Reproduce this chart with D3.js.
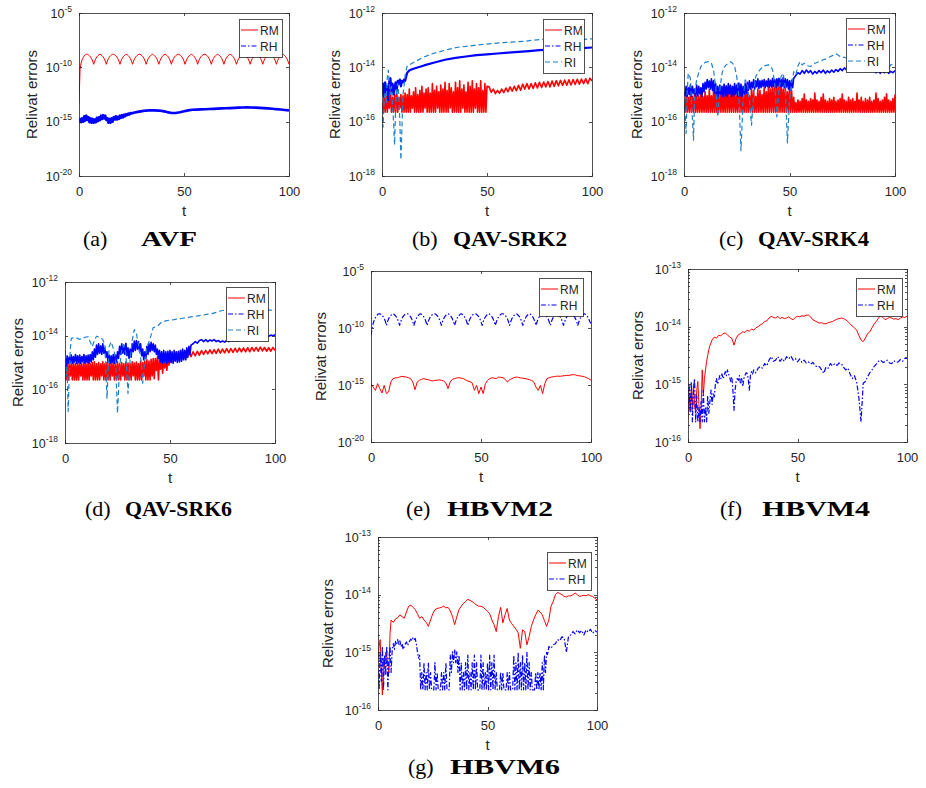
<!DOCTYPE html>
<html>
<head>
<meta charset="utf-8">
<script src="https://cdn.jsdelivr.net/npm/d3@7"></script>
<style>
body { margin: 0; background: #fff; }
svg { display: block; }
text { font-family: "Liberation Sans", Arial, sans-serif; fill: #262626; }
</style>
</head>
<body>
<svg id="fig" width="926" height="788"></svg>
<script>
// DATA
// every series is a list of segments: [t start, t step, log10(error) values]

// (a) AVF
var avfRM = [[0, 0.5, [
  -13.3,-10.2,-9.6,-9.3,-9.1,-8.95,-8.85,-8.8,-8.8,-8.85,-8.93,-9.04,-9.2,-9.42,-9.72,
  -9.42,-9.2,-9.04,-8.93,-8.85,-8.8,-8.85,-8.93,-9.04,-9.2,-9.42,-9.72,
  -9.42,-9.2,-9.04,-8.93,-8.85,-8.8,-8.8,-8.85,-8.93,-9.04,-9.2,-9.42,-9.72,
  -9.42,-9.2,-9.04,-8.93,-8.85,-8.8,-8.85,-8.93,-9.04,-9.2,-9.42,-9.72,
  -9.42,-9.2,-9.04,-8.93,-8.85,-8.8,-8.8,-8.85,-8.93,-9.04,-9.2,-9.42,-9.72,
  -9.42,-9.2,-9.04,-8.93,-8.85,-8.8,-8.85,-8.93,-9.04,-9.2,-9.42,-9.72,
  -9.42,-9.2,-9.04,-8.93,-8.85,-8.8,-8.85,-8.93,-9.04,-9.2,-9.42,-9.72,
  -9.42,-9.2,-9.04,-8.93,-8.85,-8.8,-8.8,-8.85,-8.93,-9.04,-9.2,-9.42,-9.72,
  -9.42,-9.2,-9.04,-8.93,-8.85,-8.8,-8.85,-8.93,-9.04,-9.2,-9.42,-9.72,
  -9.42,-9.2,-9.04,-8.93,-8.85,-8.8,-8.8,-8.85,-8.93,-9.04,-9.2,-9.42,-9.72,
  -9.42,-9.2,-9.04,-8.93,-8.85,-8.8,-8.85,-8.93,-9.04,-9.2,-9.42,-9.72,
  -9.42,-9.2,-9.04,-8.93,-8.85,-8.8,-8.85,-8.93,-9.04,-9.2,-9.42,-9.72,
  -9.42,-9.2,-9.04,-8.93,-8.85,-8.8,-8.8,-8.85,-8.93,-9.04,-9.2,-9.42,-9.72,
  -9.42,-9.2,-9.04,-8.93,-8.85,-8.8,-8.85,-8.93,-9.04,-9.2,-9.42,-9.72,
  -9.42,-9.2,-9.04,-8.93,-8.85,-8.8,-8.8,-8.85,-8.93,-9.04,-9.2,-9.42,-9.72,
  -9.42,-9.2,-9.04,-8.93,-8.85,-8.8,-8.85,-8.93,-9.04,-9.2,-9.42,-9.72]]];
var avfRH = [
  [0, 0.5, [-15.0,-14.75,-15.05,-14.7,-15.0,-14.5,-14.9,-14.45,-14.85,-14.6,
    -15.05,-14.7,-15.1,-14.75,-15.1,-14.8,-15.05,-14.65,-14.95,-14.6,
    -14.85,-14.45,-14.75,-14.4,-14.7,-14.45,-14.85,-14.7,-15.1,-14.75,
    -15.1,-14.7,-15.0,-14.6,-14.8,-14.5,-14.8,-14.55,-14.75,-14.45,
    -14.65,-14.4,-14.6,-14.35,-14.5,-14.3,-14.4,-14.25,-14.35,-14.2,-14.25]],
  [26, 2, [-14.18,-14.1,-14.03,-13.98,-13.95,-13.96,-13.98,-14.03,-14.12,-14.2,
    -14.2,-14.13,-14.05,-13.96,-13.91,-13.89,-13.87,-13.86,-13.84,-13.82,
    -13.8,-13.78,-13.77,-13.75,-13.73,-13.71,-13.69,-13.68,-13.69,-13.71,
    -13.73,-13.75,-13.78,-13.81,-13.85,-13.88,-13.92,-13.96]]
];

// (b) QAV-SRK2
var srk2RM = [
  [0, 0.5, [-15.3,-15.65,-15.1,-15.65,-15.0,-15.65,-15.2,-15.5,-14.9,-15.65,
    -15.1,-15.65,-15.0,-15.65,-14.85,-15.65,-15.1,-15.5,-15.0,-15.65,
    -15.05,-15.65,-14.95,-15.65,-15.0,-15.65,-14.8,-15.65,-15.05,-15.5,
    -14.9,-15.65,-14.75,-15.65,-15.0,-15.65,-14.85,-15.65,-14.7,-15.65,
    -14.95,-15.5,-14.8,-15.65,-14.75,-15.65,-14.95,-15.65,-14.6,-15.65,
    -14.85,-15.65,-14.7,-15.5,-14.9,-15.65,-14.65,-15.65,-14.8,-15.65,
    -14.55,-15.65,-14.85,-15.65,-14.6,-15.5,-14.75,-15.65,-14.9,-15.65,
    -14.55,-15.65,-14.75,-15.65,-14.5,-15.65,-14.8,-15.5,-14.65,-15.65,
    -14.9,-15.65,-14.55,-15.65,-14.7,-15.65,-14.5,-15.65,-14.8,-15.5,
    -14.6,-15.65,-14.75,-15.65,-14.5,-15.65,-14.85,-15.65,-14.6,-15.65,
    -14.7]],
  [51, 1, [-14.72,-14.92,-14.8,-14.97,-14.85,-14.95,-14.8,-14.93,-14.76,-14.9,
    -14.72,-14.88,-14.7,-14.86,-14.66,-14.84,-14.62,-14.8,-14.6,-14.8,
    -14.6,-14.78,-14.57,-14.76,-14.55,-14.74,-14.54,-14.72,-14.52,-14.72,
    -14.5,-14.7,-14.49,-14.68,-14.48,-14.67,-14.47,-14.66,-14.46,-14.65,
    -14.45,-14.63,-14.44,-14.62,-14.43,-14.6,-14.42,-14.6,-14.4,-14.5]]
];
var srk2RH = [
  [0, 0.5, [-15.0,-14.6,-15.1,-14.55,-15.0,-14.7,-15.2,-14.5,-14.4,-14.9,
    -14.6,-15.0,-14.7,-14.55,-14.85,-14.5,-14.6,-14.45,-14.7,-14.5,
    -14.55,-14.45,-14.5,-14.35,-14.2]],
  [13, 1, [-14.12,-14.08]],
  [15, 5, [-14.05,-13.93,-13.82,-13.72,-13.65,-13.6,-13.55,-13.52,-13.49,-13.46,
    -13.43,-13.4,-13.37,-13.35,-13.33,-13.31,-13.29,-13.27]]
];
var srk2RI = [
  [0, 0.5, [-15.5,-16.2,-15.2,-14.9,-15.3,-14.4,-14.1,-14.6,-15.0,-14.7,
    -15.4,-16.0,-16.85,-15.4,-14.8,-14.6,-15.0,-16.0,-17.4,-16.2,
    -15.0,-14.7,-14.3]],
  [12, 4, [-13.95,-13.78,-13.62,-13.5,-13.41,-13.33,-13.26,-13.23,-13.19,-13.16,
    -13.13,-13.1,-13.08,-13.06,-13.04,-13.0,-12.97,-13.02,-13.01,-12.99,
    -12.98,-12.97,-12.95]]
];

// (c) QAV-SRK4
var srk4RM = [[0, 0.5, [
  -15.3,-15.65,-15.05,-15.65,-15.1,-15.65,-15.0,-15.65,-15.08,-15.65,-14.95,-15.65,-15.08,-15.65,-15.05,-15.65,-14.98,-15.65,-15.08,-15.65,
  -14.9,-15.65,-15.05,-15.65,-14.82,-15.65,-15.05,-15.65,-14.85,-15.65,-14.8,-15.65,-15.05,-15.65,-14.82,-15.65,-14.85,-15.65,-15.05,-15.65,
  -14.8,-15.65,-14.85,-15.65,-15.0,-15.65,-14.82,-15.65,-14.8,-15.65,-15.05,-15.65,-14.85,-15.65,-14.8,-15.65,-15.05,-15.65,-14.82,-15.65,
  -14.85,-15.65,-15.05,-15.65,-14.8,-15.65,-14.85,-15.65,-15.08,-15.65,-14.8,-15.65,-14.85,-15.65,-15.0,-15.65,-14.75,-15.65,-14.9,-15.65,
  -14.7,-15.65,-14.8,-15.65,-14.65,-15.65,-14.75,-15.65,-14.6,-15.65,-14.7,-15.65,-14.62,-15.65,-14.8,-15.65,-14.7,-15.65,-14.9,-15.65,
  -14.75,-15.65,-14.85,-15.65,-15.1,-15.65,-15.3,-15.65,-15.2,-15.65,-15.25,-15.65,-15.15,-15.65,-14.98,-15.65,-15.2,-15.65,-15.25,-15.65,
  -15.15,-15.65,-15.2,-15.65,-14.95,-15.65,-15.2,-15.65,-15.25,-15.65,-15.1,-15.65,-14.98,-15.65,-15.2,-15.65,-15.25,-15.65,-15.15,-15.65,
  -15.2,-15.65,-15.1,-15.65,-15.25,-15.65,-15.2,-15.65,-15.15,-15.65,-14.98,-15.65,-15.2,-15.65,-15.25,-15.65,-15.1,-15.65,-15.2,-15.65,
  -15.15,-15.65,-15.25,-15.65,-14.95,-15.65,-15.2,-15.65,-15.1,-15.65,-15.25,-15.65,-15.15,-15.65,-15.2,-15.65,-15.1,-15.65,-15.25,-15.65,
  -15.2,-15.65,-14.95,-15.65,-15.15,-15.65,-15.25,-15.65,-15.2,-15.65,-15.1,-15.65,-14.97,-15.65,-15.2,-15.65,-15.25,-15.65,-15.15,-15.65,
  -15.0]]];
var srk4RH = [
  [0, 0.5, [-14.9,-15.05,-14.7,-15.08,-14.75,-15.0,-14.65,-15.08,-14.7,-14.95,
    -14.8,-15.08,-14.65,-15.05,-14.7,-14.98,-14.75,-15.08,-14.6,-14.9,
    -14.55,-14.8,-14.45,-14.75,-14.5,-14.8,-14.42,-14.85,-14.5,-14.95,
    -14.6,-15.05,-14.7,-15.08,-14.65,-15.0,-14.7,-15.08,-14.62,-15.05,
    -14.68,-15.08,-14.6,-14.98,-14.65,-15.08,-14.7,-15.05,-14.6,-15.0,
    -14.65,-15.08,-14.58,-15.05,-14.62,-15.08,-14.7,-15.0,-14.6,-14.95,
    -14.55,-14.85,-14.5,-14.8,-14.55,-14.75,-14.45,-14.8,-14.5,-14.72,
    -14.42,-14.78,-14.5,-14.75,-14.48,-14.7,-14.45,-14.75,-14.5,-14.7,
    -14.42,-14.75,-14.48,-14.72,-14.4,-14.7,-14.45,-14.75,-14.42,-14.68,
    -14.4,-14.72,-14.45,-14.7,-14.38,-14.75,-14.42,-14.72,-14.45,-14.8,
    -14.5,-14.85,-14.48,-14.75,-14.4]],
  [53, 1, [-14.3,-14.2,-14.25,-14.12,-14.22,-14.1,-14.2,-14.12,-14.25,-14.15,
    -14.22,-14.12,-14.2,-14.1,-14.22,-14.13,-14.2,-14.1,-14.18,-14.08,
    -14.15,-14.05,-14.12,-14.02,-14.1,-14.0,-14.12,-14.05,-14.15,-14.05,
    -14.12,-14.02,-14.1,-14.05,-14.15,-14.05,-14.12,-14.08,-14.2,-14.1,
    -14.22,-14.12,-14.2,-14.1,-14.22,-14.15,-14.2,-14.12]]
];
var srk4RI = [
  [0, 0.5, [-15.2,-15.6,-16.43,-14.96,-14.22,-14.3,-14.4,-15.2,-15.9,-16.68,-15.2,-14.7,-14.46]],
  [7, 1, [-14.2,-13.97,-13.9,-13.82,-13.8,-13.79,-13.85,-14.1,-14.71,-15.82,
    -14.83,-14.22,-14.0,-13.91,-13.85,-13.79,-13.85,-13.97,-14.34,-15.08,
    -17.07,-15.2,-14.46,-14.59,-15.2,-16.13,-14.96,-14.34,-14.2,-14.09,
    -14.0,-13.95,-13.93,-13.91,-13.95,-14.09,-14.59,-15.82,-14.83,-14.34,
    -14.22,-14.71,-16.78,-15.2,-14.59,-14.16,-14.28,-13.95,-13.79,-13.91,
    -13.85,-13.91,-13.95,-13.97,-13.9,-13.85,-13.82,-13.79,-13.76,-13.72,
    -13.7,-13.66,-13.62,-13.58,-13.55,-13.5,-13.55,-13.6,-13.62,-13.63,
    -13.66,-13.7,-13.72,-13.72,-13.75,-13.76,-13.78,-13.79,-13.79,-13.82,
    -13.85,-13.87,-13.9,-13.91,-13.93,-13.95,-13.97,-13.97,-13.97,-14.0,
    -14.03,-13.91,-13.88,-13.85]]
];

// (d) QAV-SRK6
var srk6RM = [
  [0, 0.5, [-15.2,-15.65,-15.05,-15.65,-15.0,-15.5,-15.05,-15.65,-14.98,-15.65,
    -15.05,-15.65,-15.02,-15.65,-14.98,-15.5,-15.05,-15.65,-15.0,-15.65,
    -15.05,-15.65,-14.98,-15.65,-15.05,-15.5,-15.0,-15.65,-14.97,-15.65,
    -15.05,-15.65,-15.0,-15.65,-15.05,-15.5,-14.97,-15.65,-15.05,-15.65,
    -15.0,-15.65,-15.05,-15.65,-14.98,-15.5,-15.02,-15.65,-15.05,-15.65,
    -14.97,-15.65,-15.05,-15.65,-15.0,-15.5,-15.05,-15.65,-14.98,-15.65,
    -15.02,-15.65,-15.05,-15.65,-14.97,-15.5,-15.02,-15.65,-14.98,-15.65,
    -15.05,-15.65,-14.95,-15.65,-15.0,-15.5,-14.95,-15.65,-14.9,-15.65,
    -14.95,-15.65,-14.88,-15.5,-14.85]],
  [42.5, 0.5, [-15.6,-14.85,-15.3,-14.8,-15.65,-14.85,-15.25,-14.8,-15.4,-14.82,
    -15.2,-14.78,-15.3,-14.8,-15.1,-14.75,-15.0,-14.78,-14.95,-14.75,
    -14.92,-14.72,-14.9,-14.72,-14.88,-14.7]],
  [56, 1, [-14.85,-14.68,-14.82,-14.64,-14.78,-14.6,-14.75,-14.58,-14.73,-14.56,
    -14.7,-14.55,-14.68,-14.53,-14.67,-14.52,-14.66,-14.5,-14.65,-14.5,
    -14.64,-14.48,-14.63,-14.48,-14.62,-14.47,-14.61,-14.46,-14.6,-14.46,
    -14.6,-14.45,-14.6,-14.44,-14.58,-14.44,-14.58,-14.43,-14.57,-14.44,
    -14.58,-14.45,-14.58,-14.44,-14.55]]
];
var srk6RH = [
  [0, 0.5, [-15.1,-15.3,-14.75,-15.03,-14.8,-15.0,-14.72,-15.03,-14.78,-14.98,
    -14.7,-15.03,-14.75,-15.0,-14.72,-15.03,-14.78,-14.98,-14.7,-15.03,
    -14.75,-15.0,-14.72,-15.03,-14.7,-14.98,-14.6,-14.9,-14.5,-14.8,
    -14.35,-14.7,-14.3,-14.65,-14.38,-14.7,-14.3,-14.65,-14.45,-14.8,
    -14.6,-15.0,-14.72,-15.03,-14.75,-15.0,-14.7,-15.03,-14.72,-14.98,
    -14.6,-14.85,-14.4,-14.7,-14.3,-14.65,-14.35,-14.7,-14.28,-14.75,
    -14.45,-14.85,-14.5,-14.8,-14.3,-14.6,-14.2,-14.55,-14.18,-14.5,
    -14.22,-14.6,-14.3,-14.75,-14.5,-14.9,-14.6,-14.85,-14.4,-14.7,
    -14.3,-14.6,-14.25,-14.55,-14.3,-14.6,-14.35,-14.7,-14.5,-14.85,
    -14.55,-14.98,-14.6,-15.03,-14.55,-14.98,-14.6,-15.03,-14.58,-14.98,
    -14.55,-15.0,-14.6,-15.03,-14.55,-14.95,-14.6,-15.0,-14.58,-14.98,
    -14.55,-14.95,-14.5,-14.9,-14.55,-14.9,-14.45,-14.8,-14.4,-14.7,
    -14.35]],
  [61, 1, [-14.3,-14.22,-14.28,-14.18,-14.15,-14.22,-14.15,-14.22,-14.16,-14.2,
    -14.15,-14.22,-14.18,-14.24,-14.2,-14.24,-14.18,-14.22,-14.15,-14.2,
    -14.14,-14.2,-14.13,-14.18,-14.12,-14.17,-14.1,-14.06,-14.08,-14.02,
    -14.06,-14.03,-14.08,-14.05,-14.08,-14.04,-14.02,-13.98,-14.0,-13.97]]
];
var srk6RI = [
  [0, 0.5, [-14.54,-15.53,-15.16,-16.83,-15.53,-14.54,-14.1]],
  [4, 1, [-14.08,-14.07,-14.1,-14.14,-14.1,-14.07,-14.05,-14.04,-14.23,-14.41,
    -14.17,-14.02,-14.05,-14.07,-14.15,-14.35,-16.33,-14.41,-14.23,-14.48,
    -14.78,-16.89,-15.16,-14.54,-14.35,-14.66,-16.15,-14.91,-14.17,-13.77,
    -13.92,-14.35,-14.78,-15.77,-14.91,-14.41,-14.23,-13.98,-13.7]],
  [44, 2, [-13.65,-13.49,-13.45,-13.42,-13.4,-13.37,-13.35,-13.32,-13.3,-13.28,
    -13.25,-13.23,-13.2,-13.18,-13.13,-13.08,-13.05,-13.09,-13.11,-13.1,
    -13.08,-13.07,-13.06,-13.06,-13.05,-13.05,-13.04,-13.05,-13.03]]
];

// (e) HBVM2
var hbvm2RM = [[0, 1, [
  -14.88,-15.18,-15.47,-14.88,-15.32,-15.7,-15.03,-15.76,-15.61,-14.74,
  -14.44,-14.38,-14.36,-14.3,-14.24,-14.28,-14.3,-14.36,-14.44,-14.74,
  -15.41,-14.74,-14.59,-14.5,-14.44,-14.5,-14.53,-14.6,-14.65,-14.59,
  -14.59,-14.55,-14.59,-14.65,-14.82,-15.32,-14.74,-14.5,-14.44,-14.38,
  -14.36,-14.4,-14.44,-14.55,-14.65,-14.7,-14.82,-15.47,-15.03,-15.76,
  -15.18,-15.76,-14.88,-14.59,-14.44,-14.36,-14.4,-14.44,-14.3,-14.33,
  -14.36,-14.5,-14.74,-14.55,-14.44,-14.36,-14.3,-14.33,-14.38,-14.4,
  -14.44,-14.48,-14.53,-14.6,-14.74,-15.18,-15.47,-15.03,-15.76,-14.88,
  -14.44,-14.36,-14.3,-14.28,-14.24,-14.22,-14.24,-14.2,-14.18,-14.16,
  -14.15,-14.12,-14.09,-14.12,-14.18,-14.2,-14.24,-14.28,-14.36,-14.45,
  -14.59]]];
var hbvm2RH = [[0, 0.5, [
  -10.64,-10.0,-9.6,-9.3,-9.1,-8.95,-8.82,-8.76,-8.75,-8.8,-8.88,-9.0,-9.15,-9.4,-9.77,
  -9.45,-9.2,-9.02,-8.9,-8.8,-8.75,-8.8,-8.9,-9.02,-9.2,-9.45,-9.77,
  -9.45,-9.2,-9.02,-8.9,-8.8,-8.75,-8.75,-8.8,-8.9,-9.02,-9.2,-9.45,-9.77,
  -9.45,-9.2,-9.02,-8.9,-8.8,-8.75,-8.8,-8.9,-9.02,-9.2,-9.45,-9.77,
  -9.45,-9.2,-9.02,-8.9,-8.8,-8.75,-8.75,-8.8,-8.9,-9.02,-9.2,-9.45,-9.77,
  -9.45,-9.2,-9.02,-8.9,-8.8,-8.75,-8.8,-8.9,-9.02,-9.2,-9.45,-9.77,
  -9.45,-9.2,-9.02,-8.9,-8.8,-8.75,-8.8,-8.9,-9.02,-9.2,-9.45,-9.77,
  -9.45,-9.2,-9.02,-8.9,-8.8,-8.75,-8.75,-8.8,-8.9,-9.02,-9.2,-9.45,-9.77,
  -9.45,-9.2,-9.02,-8.9,-8.8,-8.75,-8.8,-8.9,-9.02,-9.2,-9.45,-9.77,
  -9.45,-9.2,-9.02,-8.9,-8.8,-8.75,-8.75,-8.8,-8.9,-9.02,-9.2,-9.45,-9.77,
  -9.45,-9.2,-9.02,-8.9,-8.8,-8.75,-8.8,-8.9,-9.02,-9.2,-9.45,-9.77,
  -9.45,-9.2,-9.02,-8.9,-8.8,-8.75,-8.8,-8.9,-9.02,-9.2,-9.45,-9.77,
  -9.45,-9.2,-9.02,-8.9,-8.8,-8.75,-8.75,-8.8,-8.9,-9.02,-9.2,-9.45,-9.77,
  -9.45,-9.2,-9.02,-8.9,-8.8,-8.75,-8.8,-8.9,-9.02,-9.2,-9.45,-9.77,
  -9.45,-9.2,-9.02,-8.9,-8.8,-8.75,-8.75,-8.8,-8.9,-9.02,-9.2,-9.45,-9.77,
  -9.45,-9.2,-9.02,-8.9,-8.8,-8.75,-8.8,-8.9,-9.02,-9.2,-9.45,-9.6]]];

// (f) HBVM4
var hbvm4RM = [
  [0, 0.5, [-15.6,-15.15,-15.45,-15.1,-15.4,-15.0,-15.35,-15.5,-15.1,-14.95,
    -15.35,-15.77,-15.4,-14.75,-15.2,-14.9,-14.75,-14.6,-14.5,-14.4,-14.33]],
  [11, 1, [-14.23,-14.18,-14.2,-14.15,-14.16,-14.12,-14.11,-14.14,-14.18,-14.2,
    -14.32,-14.2,-14.14,-14.12,-14.09,-14.1,-14.06,-14.08,-14.04,-14.06,
    -14.02,-14.0,-13.97,-13.95,-13.91,-13.9,-13.85,-13.82,-13.84,-13.85,
    -13.82,-13.86,-13.84,-13.86,-13.85,-13.83,-13.86,-13.88,-13.84,-13.82,
    -13.83,-13.81,-13.82,-13.8,-13.8,-13.83,-13.88,-13.9,-13.92,-13.94,
    -13.93,-13.95,-13.95,-13.93,-13.92,-13.91,-13.89,-13.87,-13.86,-13.85,
    -13.86,-13.88,-13.91,-13.95,-13.99,-14.02,-14.06,-14.15,-14.23,-14.26,
    -14.2,-14.12,-14.09,-14.02,-13.95,-13.91,-13.85,-13.81,-13.84,-13.88,
    -13.86,-13.84,-13.85,-13.87,-13.86,-13.88,-13.85,-13.83,-13.84,-13.82]]
];
var hbvm4RH = [
  [0, 0.5, [-15.33,-15.0,-15.5,-14.95,-15.65,-15.1,-14.9,-15.65,-15.2,-15.65,
    -15.4,-15.65,-15.3,-15.65,-15.1,-15.65,-15.4,-15.65,-15.2,-15.5,
    -15.3,-15.1,-15.35,-15.15,-15.22]],
  [12.5, 0.5, [-15.0,-14.9,-15.0,-14.93,-14.85,-14.9,-14.82,-14.9,-14.85,-14.78,
    -14.85,-14.75,-14.82,-14.87,-14.95,-14.87,-15.1,-15.45,-15.1,-14.95,
    -14.9,-14.93,-14.85,-15.0,-14.9,-15.04,-14.9,-14.85,-14.8,-14.81,
    -14.9,-15.1,-14.85,-14.78,-14.82,-14.75]],
  [31, 1, [-14.8,-14.72,-14.69,-14.72,-14.64,-14.68,-14.58,-14.52,-14.6,-14.58,
    -14.52,-14.6,-14.55,-14.6,-14.52,-14.56,-14.51,-14.58,-14.55,-14.61,
    -14.56,-14.62,-14.58,-14.63,-14.61,-14.65,-14.62,-14.67,-14.7,-14.69,
    -14.75,-14.81,-14.7,-14.72,-14.64,-14.68,-14.64,-14.67,-14.63,-14.64,
    -14.7,-14.75,-14.72,-14.82,-14.9,-14.85,-14.96,-15.22,-15.65,-14.98,
    -14.95,-14.87,-14.8,-14.75,-14.69,-14.65,-14.6,-14.58,-14.62,-14.61,
    -14.58,-14.63,-14.64,-14.59,-14.62,-14.61,-14.57,-14.6,-14.55,-14.55]]
];

// (g) HBVM6
var hbvm6RM = [
  [0, 0.5, [-15.13,-14.9,-14.78,-15.3,-15.74,-15.1,-15.25,-15.0,-15.07,-15.2,-15.36,-14.67,-14.44]],
  [7, 1, [-14.48,-14.42,-14.4,-14.35,-14.38,-14.41,-14.3,-14.2,-14.18,-14.22,
    -14.26,-14.33,-14.41,-14.38,-14.44,-14.48,-14.55,-14.44,-14.33,-14.26,
    -14.24,-14.23,-14.22,-14.2,-14.23,-14.22,-14.28,-14.38,-14.52,-14.38,
    -14.26,-14.2,-14.15,-14.12,-14.08,-14.1,-14.12,-14.15,-14.18,-14.2,
    -14.2,-14.22,-14.25,-14.29,-14.33,-14.44,-14.52,-14.64,-14.38,-14.22,
    -14.49,-14.35,-14.24,-14.44,-14.5,-14.55,-14.6,-14.66,-14.93,-14.61,
    -14.64,-14.87,-14.73,-14.55,-14.44,-14.35,-14.27,-14.3,-14.35,-14.45,
    -14.55,-14.44,-14.2,-14.12,-14.0,-13.96,-13.98,-14.0,-14.03,-14.04,
    -14.02,-14.02,-14.0,-13.97,-14.0,-14.03,-14.02,-14.01,-14.02,-14.0,
    -14.02,-14.03,-14.06,-14.09]]
];
var hbvm6RH = [
  [0, 0.5, [-15.3,-15.65,-15.0,-15.5,-14.9,-15.65,-15.05,-15.4,-14.9,-15.65,
    -15.1,-14.9,-15.35,-14.95,-14.85,-14.95,-14.81,-14.85,-14.78,-14.88,
    -14.8,-14.9,-14.85,-14.95,-14.9,-14.85,-14.82,-14.88,-14.84,-14.8,
    -14.77,-14.8,-14.75,-14.78,-14.76,-14.85,-14.99]],
  [18.5, 0.5, [-15.1,-15.05,-15.65,-15.35,-15.65,-15.18,-15.65,-15.35,-15.65,-15.18,
    -15.65,-15.35,-15.65,-15.65,-15.65,-15.18,-15.65,-15.35,-15.65,-15.65,
    -15.65,-15.35,-15.65,-15.35,-15.65,-15.18,-15.65,-15.65,-15.65,-15.05,
    -15.35,-14.99,-15.18,-14.95,-15.18,-14.99,-15.35,-15.05,-15.65,-15.18,
    -15.65,-15.35,-15.65,-15.18,-15.65,-15.05,-15.65,-15.35,-15.65,-15.18,
    -15.65,-15.05,-15.65,-15.18,-15.65,-15.65,-15.65,-15.05,-15.65,-15.18,
    -15.65,-15.35,-15.65,-15.18,-15.65,-15.05,-15.65,-15.18,-15.65,-15.05,
    -15.65,-15.35,-15.65,-15.65,-15.65,-15.35,-15.65,-15.35,-15.65,-15.65,
    -15.65,-15.35,-15.65,-15.35,-15.65,-15.65,-15.65,-15.05,-15.65,-15.18,
    -15.65,-15.0,-15.65,-15.18,-15.65,-15.05,-15.65,-15.18,-15.65,-15.0,
    -15.65,-15.18,-15.65,-15.35,-15.65,-15.65,-15.65,-15.35,-15.65,-15.35,
    -15.65,-15.35,-15.65,-15.18,-15.65,-15.05,-15.35,-15.0,-15.05,-14.9]],
  [79, 1, [-14.93,-14.87,-14.85,-14.78,-14.8,-14.73,-14.75,-15.0,-14.72,-14.7,
    -14.64,-14.68,-14.61,-14.66,-14.62,-14.7,-14.61,-14.65,-14.6,-14.67,
    -14.62,-14.65]]
];

var xTicks = [0, 50, 100];

// LAYOUT
var panels = [
  { box: [79, 13, 289, 176], ylim: [-20, -5], yticks: [-20, -15, -10, -5], minor: false,
    series: [["RM", avfRM], ["RH", avfRH]], legend: [239, 19, 43], labOff: 47,
    cap: ["(a)", "AVF"], capX: [83, 141, 56], capY: 246, rhWidth: 2.6, rmWidth: 1 },
  { box: [382, 13, 592, 176], ylim: [-18, -12], yticks: [-18, -16, -14, -12], minor: false,
    series: [["RM", srk2RM], ["RH", srk2RH], ["RI", srk2RI]], legend: [543, 19, 41], labOff: 47,
    cap: ["(b)", "QAV-SRK2"], capX: [412, 453, 114], capY: 246, rhWidth: 2.2, rmWidth: 1.6 },
  { box: [684, 13, 895, 176], ylim: [-18, -12], yticks: [-18, -16, -14, -12], minor: false,
    series: [["RM", srk4RM], ["RH", srk4RH], ["RI", srk4RI]], legend: [846, 18, 43], labOff: 47,
    cap: ["(c)", "QAV-SRK4"], capX: [719, 758, 111], capY: 246, rhWidth: 1.6, rmWidth: 1.6 },
  { box: [65, 282, 275, 443], ylim: [-18, -12], yticks: [-18, -16, -14, -12], minor: false,
    series: [["RM", srk6RM], ["RH", srk6RH], ["RI", srk6RI]], legend: [226, 287, 42], labOff: 47,
    cap: ["(d)", "QAV-SRK6"], capX: [85, 125, 107], capY: 516, rhWidth: 1.6, rmWidth: 1.6 },
  { box: [371, 271, 591, 442], ylim: [-20, -5], yticks: [-20, -15, -10, -5], minor: false,
    series: [["RM", hbvm2RM], ["RH", hbvm2RH]], legend: [539, 278, 44], labOff: 50,
    cap: ["(e)", "HBVM2"], capX: [406, 447, 106], capY: 516, rhWidth: 0, rmWidth: 1 },
  { box: [688, 269, 907, 442], ylim: [-16, -13], yticks: [-16, -15, -14, -13], minor: true,
    series: [["RM", hbvm4RM], ["RH", hbvm4RH]], legend: [856, 278, 46], labOff: 50,
    cap: ["(f)", "HBVM4"], capX: [720, 762, 108], capY: 516, rhWidth: 0, rmWidth: 1 },
  { box: [378, 537, 597, 710], ylim: [-16, -13], yticks: [-16, -15, -14, -13], minor: true,
    series: [["RM", hbvm6RM], ["RH", hbvm6RH]], legend: [547, 552, 44], labOff: 50,
    cap: ["(g)", "HBVM6"], capX: [408, 450, 110], capY: 774, rhWidth: 0, rmWidth: 1 }
];

var lineStyle = {
  RM: { color: "#ff0000", dash: null, width: 1 },
  RH: { color: "#0000ff", dash: "5,2,1.5,2", width: 1.2 },
  RI: { color: "#1f80cc", dash: "5,3", width: 1.2 }
};

function points(segs) {
  var out = [];
  segs.forEach(function(s) {
    s[2].forEach(function(e, i) { out.push([s[0] + i * s[1], Math.pow(10, e)]); });
  });
  return out;
}

var svg = d3.select("#fig");
var defs = svg.append("defs");
var ink = "#262626";

panels.forEach(function(p, pi) {
  var x0 = p.box[0], y0 = p.box[1], x1 = p.box[2], y1 = p.box[3];
  var x = d3.scaleLinear().domain([0, 100]).range([x0, x1]);
  var y = d3.scaleLog().domain([Math.pow(10, p.ylim[0]), Math.pow(10, p.ylim[1])]).range([y1, y0]);
  var g = svg.append("g");

  defs.append("clipPath").attr("id", "clip" + pi)
    .append("rect").attr("x", x0).attr("y", y0).attr("width", x1 - x0).attr("height", y1 - y0);

  var line = d3.line()
    .x(function(d) { return x(d[0]); })
    .y(function(d) { return y(d[1]); });

  // curves
  var plot = g.append("g").attr("clip-path", "url(#clip" + pi + ")");
  p.series.forEach(function(s) {
    var st = lineStyle[s[0]];
    var path = plot.append("path")
      .datum(points(s[1]))
      .attr("d", line)
      .attr("fill", "none")
      .attr("stroke", st.color)
      .attr("stroke-linejoin", "round")
      .attr("stroke-width", st.width);
    if (s[0] === "RM") path.attr("stroke-width", p.rmWidth);
    if (s[0] === "RH" && p.rhWidth) {
      path.attr("stroke-width", p.rhWidth);
    } else if (st.dash) {
      path.attr("stroke-dasharray", st.dash);
    }
  });

  // ticks, all four sides, pointing inwards
  var majors = p.yticks.map(function(e) { return Math.pow(10, e); });
  var minors = [];
  if (p.minor) {
    for (var e = p.ylim[0]; e < p.ylim[1]; e++) {
      for (var k = 2; k <= 9; k++) minors.push(k * Math.pow(10, e));
    }
  }

  var bottom = g.append("g").attr("transform", "translate(0," + y1 + ")")
    .call(d3.axisBottom(x).tickValues(xTicks).tickSizeInner(-3).tickSizeOuter(0).tickPadding(11));
  var top = g.append("g").attr("transform", "translate(0," + y0 + ")")
    .call(d3.axisTop(x).tickValues(xTicks).tickSizeInner(-3).tickSizeOuter(0).tickFormat(""));
  var left = g.append("g").attr("transform", "translate(" + x0 + ",0)")
    .call(d3.axisLeft(y).tickValues(majors).tickSizeInner(-3).tickSizeOuter(0).tickFormat(""));
  var right = g.append("g").attr("transform", "translate(" + x1 + ",0)")
    .call(d3.axisRight(y).tickValues(majors).tickSizeInner(-3).tickSizeOuter(0).tickFormat(""));
  var axes = [bottom, top, left, right];
  if (p.minor) {
    axes.push(g.append("g").attr("transform", "translate(" + x0 + ",0)")
      .call(d3.axisLeft(y).tickValues(minors).tickSizeInner(-1.8).tickSizeOuter(0).tickFormat("")));
    axes.push(g.append("g").attr("transform", "translate(" + x1 + ",0)")
      .call(d3.axisRight(y).tickValues(minors).tickSizeInner(-1.8).tickSizeOuter(0).tickFormat("")));
  }
  axes.forEach(function(a) {
    a.select(".domain").remove();
    a.selectAll("line").attr("stroke", ink).attr("stroke-width", 0.8).attr("shape-rendering", "crispEdges");
  });
  bottom.selectAll("text")
    .attr("font-family", "Liberation Sans, Arial, sans-serif")
    .attr("font-size", 13).attr("fill", ink);

  // y tick labels: 10 with superscript exponent
  p.yticks.forEach(function(e) {
    var t = g.append("text")
      .attr("x", x0 - 7).attr("y", y(Math.pow(10, e)) + 4.5)
      .attr("text-anchor", "end");
    t.append("tspan").attr("font-size", 12.5).text("10");
    t.append("tspan").attr("font-size", 8.5).attr("dy", -6).text(String(e));
  });

  // box
  g.append("rect")
    .attr("x", x0).attr("y", y0).attr("width", x1 - x0).attr("height", y1 - y0)
    .attr("fill", "none").attr("stroke", ink).attr("stroke-width", 0.8)
    .attr("shape-rendering", "crispEdges");

  // axis labels
  g.append("text")
    .attr("x", (x0 + x1) / 2).attr("y", y1 + 40)
    .attr("text-anchor", "middle").attr("font-size", 15).text("t");
  g.append("text")
    .attr("transform", "translate(" + (x0 - p.labOff) + "," + ((y0 + y1) / 2) + ") rotate(-90)")
    .attr("text-anchor", "middle").attr("dy", "0.35em").attr("font-size", 15)
    .text("Relivat errors");

  // legend
  var lx = p.legend[0], ly = p.legend[1], lw = p.legend[2];
  var n = p.series.length;
  var leg = g.append("g");
  leg.append("rect")
    .attr("x", lx).attr("y", ly).attr("width", lw).attr("height", 6 + 16 * n)
    .attr("fill", "#fff").attr("stroke", ink).attr("stroke-width", 0.8)
    .attr("shape-rendering", "crispEdges");
  p.series.forEach(function(s, i) {
    var st = lineStyle[s[0]];
    var ry = ly + 11 + 16 * i;
    var l = leg.append("line")
      .attr("x1", lx + 2).attr("x2", lx + 19).attr("y1", ry).attr("y2", ry)
      .attr("stroke", st.color).attr("stroke-width", st.width);
    if (st.dash) l.attr("stroke-dasharray", st.dash);
    leg.append("text").attr("x", lx + 21).attr("y", ry + 4.5)
      .attr("font-size", 12).text(s[0]);
  });

  // caption: label and bold name, name fitted to the width it has in the figure
  var capFont = "'Liberation Serif', 'Times New Roman', serif";
  svg.append("text")
    .attr("x", p.capX[0]).attr("y", p.capY)
    .style("font-family", capFont).style("font-size", "22px").style("fill", "#000")
    .text(p.cap[0]);
  svg.append("text")
    .attr("x", p.capX[1]).attr("y", p.capY)
    .attr("textLength", p.capX[2]).attr("lengthAdjust", "spacingAndGlyphs")
    .style("font-family", capFont).style("font-size", "22px").style("fill", "#000")
    .style("font-weight", "bold")
    .text(p.cap[1]);
});
</script>
</body>
</html>
